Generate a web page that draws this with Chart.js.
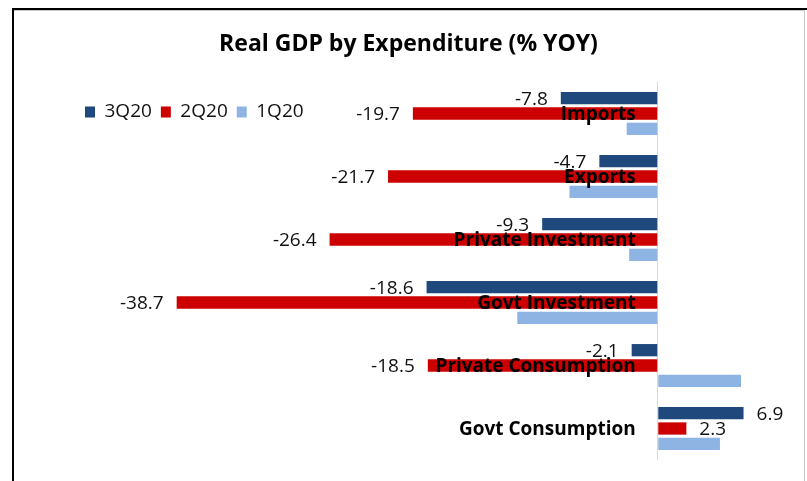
<!DOCTYPE html>
<html>
<head>
<meta charset="utf-8">
<script src="https://cdn.jsdelivr.net/npm/chart.js@4.4.1/dist/chart.umd.min.js"></script>
<style>
html,body{margin:0;padding:0;background:#fff;overflow:hidden;width:807px;height:481px;}
#wrap{position:absolute;left:0;top:0;width:807px;height:481px;z-index:1;}
.fr{position:absolute;z-index:2;}
</style>
</head>
<body>
<div id="wrap"><canvas id="c"></canvas></div>
<div class="fr" style="left:12px;top:8px;width:795px;height:2px;background:#000;"></div>
<div class="fr" style="left:12px;top:8px;width:2px;height:473px;background:#000;"></div>
<div class="fr" style="left:14px;top:10px;width:790px;height:1px;background:#c8c8c8;"></div>
<div class="fr" style="left:804px;top:10px;width:1px;height:471px;background:#c8c8c8;"></div>
<script>
const categories = ['Imports', 'Exports', 'Private Investment', 'Govt Investment', 'Private Consumption', 'Govt Consumption'];
const seriesNames = ['3Q20', '2Q20', '1Q20'];
const q3_2020 = [-7.8, -4.7, -9.3, -18.6, -2.1, 6.9];
const q2_2020 = [-19.7, -21.7, -26.4, -38.7, -18.5, 2.3];
const q1_2020 = [-2.5, -7.1, -2.3, -11.3, 6.7, 5.0];
const labelledSeries = [0, 1];
const xMin = -46.8, xMax = 7.5;

const labelPlugin = {
  id: 'barLabels',
  afterDatasetsDraw(chart) {
    const ctx = chart.ctx;
    const xs = chart.scales.x, ys = chart.scales.y;
    ctx.save();
    ctx.font = '19px "Open Sans"';
    ctx.fillStyle = '#111';
    ctx.textBaseline = 'middle';
    labelledSeries.forEach(di => {
      const meta = chart.getDatasetMeta(di);
      meta.data.forEach((bar, i) => {
        const v = chart.data.datasets[di].data[i];
        const neg = v < 0;
        ctx.textAlign = neg ? 'right' : 'left';
        ctx.fillText(v.toFixed(1), bar.x + (neg ? -13 : 13), bar.y + 1.5);
      });
    });
    ctx.font = 'bold 19px "Open Sans"';
    ctx.fillStyle = '#000';
    ctx.textAlign = 'right';
    const x0 = xs.getPixelForValue(0);
    categories.forEach((c, i) => ctx.fillText(c, x0 - 22, ys.getPixelForValue(i) + 1.5));
    ctx.restore();
  }
};

// Title and legend take their room above the plot; then the legend is moved
// inside the plot area (top-left) and the title to its place.
const placeBlocks = {
  id: 'placeBlocks',
  afterLayout(chart) {
    const ca = chart.chartArea;
    const t = chart.titleBlock, l = chart.legend;
    if (t) {
      const h = t.height;
      t.top = ca.top - 68.2; t.bottom = t.top + h;
      t.left -= 5; t.right -= 5;
    }
    if (l) { const h = l.height; l.top = ca.top + 11.5; l.bottom = l.top + h; }
  }
};

const chart = new Chart(document.getElementById('c'), {
  type: 'bar',
  data: {
    labels: categories,
    datasets: [
      { label: seriesNames[0], data: q3_2020, backgroundColor: '#1F497D' },
      { label: seriesNames[1], data: q2_2020, backgroundColor: '#CC0000' },
      { label: seriesNames[2], data: q1_2020, backgroundColor: '#8DB4E2' }
    ]
  },
  options: {
    indexAxis: 'y',
    responsive: true,
    maintainAspectRatio: false,
    animation: false,
    datasets: { bar: { categoryPercentage: 0.73, barPercentage: 0.8 } },
    layout: { padding: { left: 76, right: 56, top: 0, bottom: 21 } },
    scales: {
      x: {
        min: xMin, max: xMax,
        ticks: { display: false },
        grid: {
          drawTicks: false,
          lineWidth: 1,
          color: c => (c.tick && c.tick.value === 0) ? '#D9D9D9' : 'rgba(0,0,0,0)'
        },
        border: { display: false }
      },
      y: { display: false }
    },
    plugins: {
      title: {
        display: true,
        text: 'Real GDP by Expenditure (% YOY)',
        color: '#000',
        font: { family: '"Open Sans"', size: 23, weight: 'bold' },
        padding: { top: 16.4, bottom: 0 }
      },
      legend: {
        position: 'top',
        align: 'start',
        labels: {
          boxWidth: 10, boxHeight: 11, padding: 9, color: '#111',
          font: { family: '"Open Sans"', size: 19 }
        }
      },
      tooltip: { enabled: false }
    }
  },
  plugins: [labelPlugin, placeBlocks]
});
if (document.fonts && document.fonts.ready) document.fonts.ready.then(() => chart.update());
</script>
</body>
</html>
